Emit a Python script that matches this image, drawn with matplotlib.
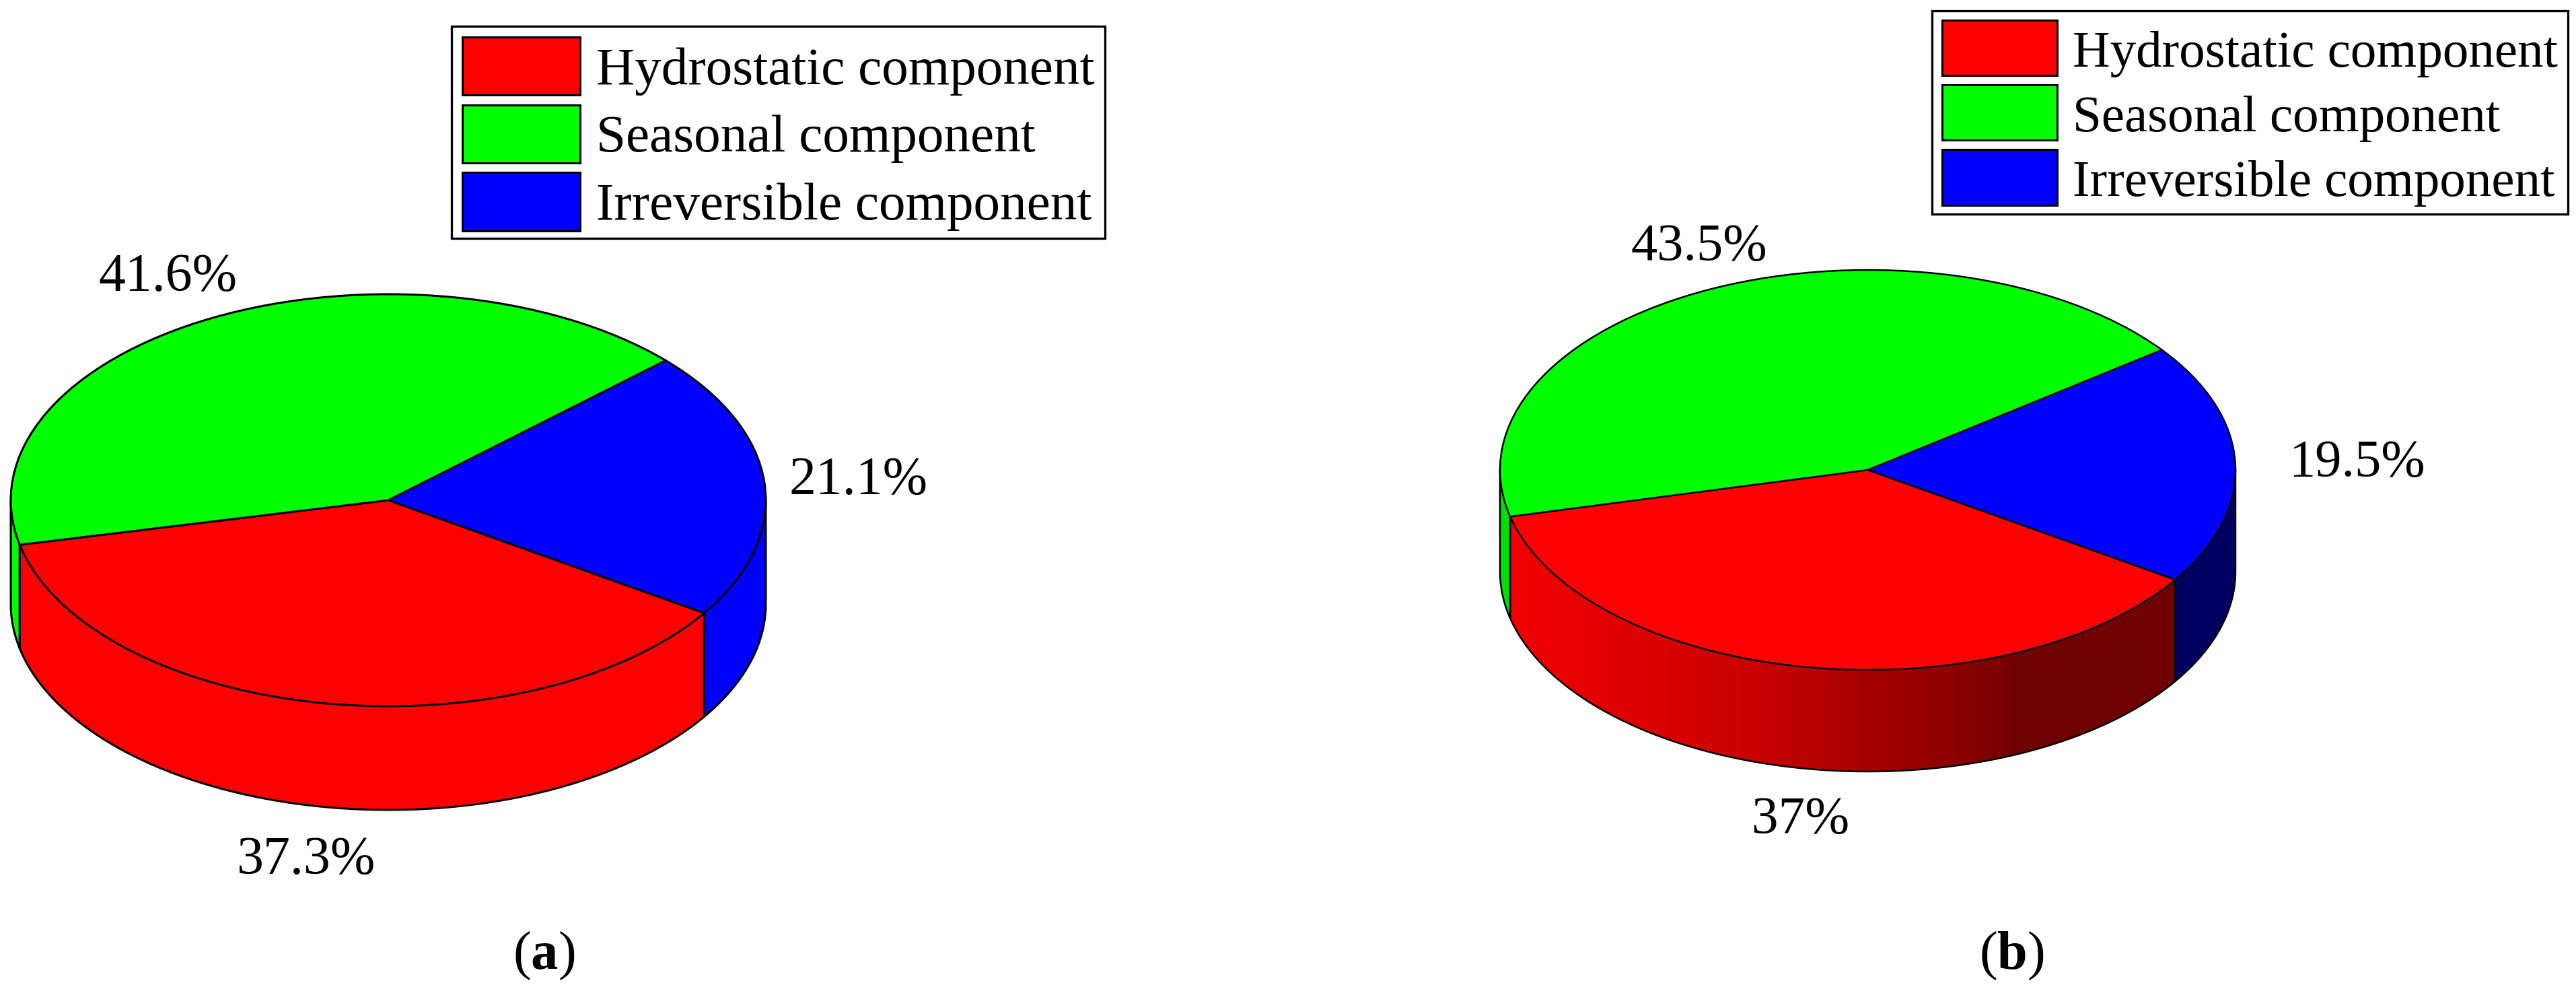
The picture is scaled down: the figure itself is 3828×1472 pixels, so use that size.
import matplotlib
matplotlib.use('Agg')
import matplotlib.pyplot as plt
from matplotlib.legend_handler import HandlerPatch
from matplotlib.patches import Patch, Rectangle
import numpy as np

W, H = 3828, 1472

plt.rcParams['font.family'] = ['Liberation Serif', 'DejaVu Serif']
plt.rcParams['mathtext.fontset'] = 'custom'
plt.rcParams['mathtext.rm'] = 'Liberation Serif'
plt.rcParams['mathtext.bf'] = 'Liberation Serif:bold'

components = ['Hydrostatic component', 'Seasonal component', 'Irreversible component']
colors = ['#ff0000', '#00ff00', '#0000ff']
values_a = [37.3, 41.6, 21.1]
values_b = [37.0, 43.5, 19.5]
labels_a = ['37.3%', '41.6%', '21.1%']
labels_b = ['37%', '43.5%', '19.5%']
panels = ['($\\mathbf{a}$)', '($\\mathbf{b}$)']

# shading of the side wall in (b), red channel against pixel column
shade_cols = [2247, 2400, 2620, 2800, 2900, 3000, 3240]
shade_red = [0.95, 0.88, 0.78, 0.63, 0.55, 0.44, 0.44]
side_b = ['#ff0000', '#00e000', '#000060']


def px_text(x, y, s, size):
    plt.gcf().text(x / W, 1 - y / H, s, ha='center', va='center', fontsize=size, color='black')


def draw_pie(fig, cx, cy, a, b, depth, values, start, side_colors, lw, shaded=False):
    ax = fig.add_axes([(cx - a) / W, 1 - (cy + b + depth) / H, 2 * a / W, (2 * b + depth) / H])
    # pie runs counter clockwise: hydrostatic, irreversible, seasonal
    order = [0, 2, 1]
    wedges, _ = ax.pie([values[i] for i in order], colors=[colors[i] for i in order],
                       startangle=start, radius=1,
                       wedgeprops={'edgecolor': 'black', 'linewidth': lw, 'clip_on': False, 'zorder': 3})
    ax.set_aspect('auto')
    ax.set_xlim(-1, 1)
    ax.set_ylim(-1 - depth / b, 1)
    d = depth / b
    for w, i in zip(wedges, order):
        for off in (0, 360):
            t1 = max(w.theta1, 180 + off)
            t2 = min(w.theta2, 360 + off)
            if t2 <= t1:
                continue
            t = np.radians(np.linspace(t1, t2, 200))
            xs = np.cos(t)
            ys = np.sin(t)
            if shaded and i == 0:
                for j in range(len(t) - 1):
                    col = cx + a * xs[j:j + 2].mean()
                    c = (np.interp(col, shade_cols, shade_red), 0, 0)
                    ax.fill(np.r_[xs[j:j + 2], xs[j:j + 2][::-1]],
                            np.r_[ys[j:j + 2], ys[j:j + 2][::-1] - d],
                            color=c, lw=0.8, zorder=1, clip_on=False)
            else:
                ax.fill(np.r_[xs, xs[::-1]], np.r_[ys, ys[::-1] - d],
                        color=side_colors[i], lw=0.8, zorder=1, clip_on=False)
            ax.plot(np.r_[xs[0], xs[0], xs, xs[-1], xs[-1]],
                    np.r_[ys[0], ys[0] - d, ys - d, ys[-1] - d, ys[-1]],
                    color='black', lw=lw, zorder=2, clip_on=False)
    return ax


def add_legend(fig, left, top, size, length, height, spacing, drop):
    # the legend keeps part of each row as descent, the swatch fills the whole row
    def tall_patch(legend, orig_handle, xdescent, ydescent, width, height, fontsize):
        return Rectangle((-xdescent, -ydescent - drop), width, height + ydescent)

    handles = [Patch(facecolor=c, edgecolor='black', linewidth=2.2) for c in colors]
    leg = fig.legend(handles, components, loc='upper left', bbox_to_anchor=(left / W, 1 - top / H),
                     fontsize=size, frameon=True, fancybox=False, framealpha=1, edgecolor='black',
                     borderaxespad=0, borderpad=0.2, handlelength=length, handleheight=height,
                     handletextpad=0.3, labelspacing=spacing,
                     handler_map={Patch: HandlerPatch(patch_func=tall_patch)})
    leg.get_frame().set_linewidth(2.4)
    for t in leg.get_texts():
        t.set_y(-5)


fig = plt.figure(figsize=(W / 100, H / 100), dpi=100, facecolor='white')

draw_pie(fig, 577, 743, 561, 306, 154, values_a, 192.5, colors, 2.2)
draw_pie(fig, 2775.5, 698, 546.5, 297, 151, values_b, 193.5, side_b, 1.8, shaded=True)

add_legend(fig, 671, 39, 57, 2.21, 1.09, 0.24, 8)
add_legend(fig, 2871, 16, 55.5, 2.21, 1.07, 0.23, 6)

px_text(455, 1278, labels_a[0], 57.5)
px_text(250, 412, labels_a[1], 57.5)
px_text(1276, 714, labels_a[2], 57.5)
px_text(2676, 1218, labels_b[0], 57)
px_text(2525, 367, labels_b[1], 56.5)
px_text(3502, 688, labels_b[2], 56.5)
px_text(808, 1420, panels[0], 58)
px_text(2989, 1420, panels[1], 58)

fig.savefig('out.png', dpi=100)
plt.close()
